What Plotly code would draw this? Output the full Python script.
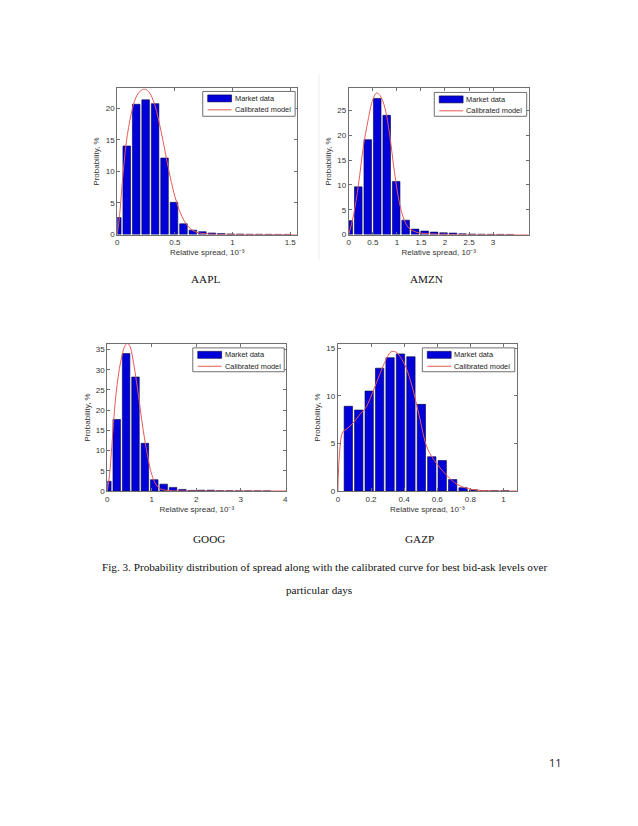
import plotly.graph_objects as go

W, H = 638, 826

# ---------------- data ----------------
# AAPL
aapl_bar_x = [0.0, 0.082, 0.164, 0.246, 0.328, 0.41, 0.492, 0.574, 0.656, 0.738, 0.82, 0.902, 0.984, 1.066, 1.148, 1.23, 1.312, 1.394, 1.476]
aapl_bar_y = [2.7, 14.0, 20.6, 21.3, 20.7, 12.1, 5.1, 1.7, 0.7, 0.45, 0.25, 0.15, 0.1, 0.08, 0.05, 0.05, 0.04, 0.03, 0.03]
aapl_fit_x = [0.0, 0.02, 0.04, 0.06, 0.08, 0.12, 0.16, 0.2, 0.24, 0.28, 0.32, 0.36, 0.4, 0.44, 0.48, 0.52, 0.56, 0.6, 0.65, 0.7, 0.8, 1.0, 1.56]
aapl_fit_y = [0.0, 3.0, 7.5, 11.5, 14.8, 19.0, 21.6, 22.7, 23.0, 22.4, 20.8, 18.0, 14.5, 10.8, 7.4, 4.8, 2.9, 1.6, 0.7, 0.3, 0.08, 0.02, 0.0]

# AMZN
amzn_bar_x = [0.0, 0.197, 0.394, 0.591, 0.788, 0.985, 1.182, 1.379, 1.576, 1.773, 1.97, 2.167, 2.364, 2.561, 2.758, 2.955, 3.152, 3.349]
amzn_bar_y = [2.8, 9.6, 19.1, 27.4, 24.0, 10.7, 2.9, 1.1, 0.7, 0.5, 0.35, 0.3, 0.15, 0.1, 0.07, 0.05, 0.04, 0.03]
amzn_fit_x = [0.0, 0.1, 0.2, 0.3, 0.4, 0.5, 0.58, 0.65, 0.75, 0.85, 0.95, 1.05, 1.15, 1.25, 1.4, 1.6, 2.0, 3.74]
amzn_fit_y = [0.0, 4.0, 10.0, 17.5, 23.0, 27.2, 28.5, 28.0, 25.5, 20.0, 12.5, 6.5, 3.0, 1.3, 0.5, 0.2, 0.05, 0.0]

# GOOG
goog_bar_x = [0.0, 0.211, 0.422, 0.633, 0.844, 1.055, 1.266, 1.477, 1.688, 1.899, 2.11, 2.321, 2.532, 2.743, 2.954, 3.165, 3.376, 3.587]
goog_bar_y = [2.4, 17.7, 34.0, 28.2, 11.8, 2.8, 1.7, 0.9, 0.4, 0.15, 0.2, 0.2, 0.05, 0.04, 0.03, 0.03, 0.02, 0.02]
goog_fit_x = [0.0, 0.05, 0.1, 0.15, 0.2, 0.3, 0.4, 0.45, 0.5, 0.6, 0.7, 0.8, 0.9, 1.0, 1.1, 1.2, 1.4, 2.0, 4.02]
goog_fit_y = [0.0, 4.0, 11.0, 18.5, 24.5, 32.0, 36.0, 36.5, 36.0, 31.0, 23.5, 15.5, 9.0, 4.0, 1.5, 0.5, 0.1, 0.0, 0.0]

# GAZP
gazp_bar_x = [0.063, 0.126, 0.189, 0.252, 0.315, 0.378, 0.441, 0.504, 0.567, 0.63, 0.693, 0.756, 0.819, 0.882, 0.945, 1.008]
gazp_bar_y = [8.9, 8.5, 10.5, 12.9, 14.0, 14.4, 14.1, 9.1, 3.6, 3.2, 1.2, 0.35, 0.12, 0.05, 0.03, 0.02]
gazp_fit_x = [0.0, 0.01, 0.03, 0.06, 0.1, 0.13, 0.17, 0.22, 0.28, 0.32, 0.35, 0.4, 0.44, 0.49, 0.54, 0.6, 0.66, 0.72, 0.8, 0.9, 1.08]
gazp_fit_y = [0.0, 4.0, 6.2, 6.6, 7.3, 8.0, 8.8, 10.8, 13.4, 14.6, 14.6, 13.4, 11.5, 8.0, 4.5, 2.8, 1.6, 0.7, 0.2, 0.03, 0.0]

names = ["AAPL", "AMZN", "GOOG", "GAZP"]
series_names = ["Market data", "Calibrated model"]
x_ranges = [[0, 1.56], [0, 3.74], [0, 4.02], [0, 1.08]]
y_ranges = [[0, 23.1], [0, 29.4], [0, 36.4], [0, 15.45]]
x_ticks = [[0, 0.5, 1, 1.5], [0, 0.5, 1, 1.5, 2, 2.5, 3], [0, 1, 2, 3, 4], [0, 0.2, 0.4, 0.6, 0.8, 1]]
x_ticklabels = [["0", "0.5", "1", "1.5"], ["0", "0.5", "1", "1.5", "2", "2.5", "3"],
                ["0", "1", "2", "3", "4"], ["0", "0.2", "0.4", "0.6", "0.8", "1"]]
y_ticks = [[0, 5, 10, 15, 20], [0, 5, 10, 15, 20, 25], [0, 5, 10, 15, 20, 25, 30, 35], [0, 5, 10, 15]]
bin_widths = [0.082, 0.197, 0.211, 0.063]

bars = [(aapl_bar_x, aapl_bar_y), (amzn_bar_x, amzn_bar_y), (goog_bar_x, goog_bar_y), (gazp_bar_x, gazp_bar_y)]
fits = [(aapl_fit_x, aapl_fit_y), (amzn_fit_x, amzn_fit_y), (goog_fit_x, goog_fit_y), (gazp_fit_x, gazp_fit_y)]

# ---------------- layout geometry (pixels) ----------------
boxes = [(116, 297, 89, 236), (349, 530, 89, 236), (106, 286, 346, 494), (338, 518, 346, 494)]
legend_boxes = [(202, 295, 92, 117), (435, 528, 93, 117), (192, 284, 350, 374), (423, 516, 350, 374)]

BAR_COLOR = "#0000d8"
BAR_EDGE = "#00004a"
LINE_COLOR = "#e85a55"
AXIS_COLOR = "#707070"
TXT = "#333333"

fig = go.Figure()
layout = dict(
    width=W, height=H,
    margin=dict(l=0, r=0, t=0, b=0),
    paper_bgcolor="white", plot_bgcolor="white",
    font=dict(family="Liberation Sans, Arial", size=8, color=TXT),
    showlegend=False,
)


def px(x):
    return x / W


def py(y):
    return 1 - y / H


for i in range(4):
    sx = "" if i == 0 else str(i + 1)
    xa, ya = "x" + sx, "y" + sx
    bx, by = bars[i]
    fx, fy = fits[i]
    fig.add_trace(go.Bar(
        x=bx, y=by, xaxis=xa, yaxis=ya, name=series_names[0],
        width=bin_widths[i] * 0.8,
        marker=dict(color=BAR_COLOR, line=dict(color=BAR_EDGE, width=0.6)),
    ))
    fig.add_trace(go.Scatter(
        x=fx, y=fy, xaxis=xa, yaxis=ya, name=series_names[1],
        mode="lines", line=dict(color=LINE_COLOR, width=1, shape="spline"),
    ))
    l, r, t, b = boxes[i]
    axis_common = dict(
        showline=True, linecolor=AXIS_COLOR, linewidth=1, mirror="allticks",
        ticks="inside", ticklen=3, tickcolor=AXIS_COLOR,
        showgrid=False, zeroline=False,
        tickfont=dict(size=8, color=TXT),
    )
    layout["xaxis" + sx] = dict(
        axis_common, domain=[px(l), px(r)], anchor=ya, range=x_ranges[i],
        tickmode="array", tickvals=x_ticks[i], ticktext=x_ticklabels[i],
        title=dict(text="Relative spread, 10⁻³", font=dict(size=8, color=TXT), standoff=3),
    )
    layout["yaxis" + sx] = dict(
        axis_common, domain=[py(b), py(t)], anchor=xa, range=y_ranges[i],
        tickmode="array", tickvals=y_ticks[i],
        title=dict(text="Probability, %", font=dict(size=8, color=TXT), standoff=4),
    )

    # hand-drawn legend box (MATLAB style)
    ll, lr, lt, lb = legend_boxes[i]
    fig.add_shape(type="rect", xref="paper", yref="paper",
                  x0=px(ll), x1=px(lr), y0=py(lb), y1=py(lt),
                  line=dict(color=AXIS_COLOR, width=1), fillcolor="white", layer="above")
    row1 = lt + 7
    row2 = lt + 18.5
    fig.add_shape(type="rect", xref="paper", yref="paper",
                  x0=px(ll + 5), x1=px(ll + 29), y0=py(row1 + 3.5), y1=py(row1 - 3.5),
                  line=dict(color=BAR_EDGE, width=0.6), fillcolor=BAR_COLOR, layer="above")
    fig.add_shape(type="line", xref="paper", yref="paper",
                  x0=px(ll + 5), x1=px(ll + 29), y0=py(row2), y1=py(row2),
                  line=dict(color=LINE_COLOR, width=1), layer="above")
    for k, row in enumerate([row1, row2]):
        fig.add_annotation(text=series_names[k], xref="paper", yref="paper",
                           x=px(ll + 30), y=py(row), xanchor="left", yanchor="middle",
                           showarrow=False, font=dict(size=7.4, color="#222222"))

fig.update_layout(**layout)

# captions
serif = dict(family="Liberation Serif, Times New Roman", size=11.2, color="#111111")
captions = [("AAPL", 205, 281), ("AMZN", 427, 281), ("GOOG", 208, 542), ("GAZP", 420, 542),
            ("Fig. 3. Probability distribution of spread along with the calibrated curve for best bid-ask levels over", 325, 570),
            ("particular days", 319, 594)]
for txt, cx, cy in captions:
    fig.add_annotation(text=txt, x=px(cx), y=py(cy), xref="paper", yref="paper",
                       showarrow=False, xanchor="center", yanchor="middle", font=serif)
fig.add_annotation(text="11", x=px(557), y=py(767), xref="paper", yref="paper",
                   showarrow=False, xanchor="center", yanchor="middle",
                   font=dict(family="Open Sans, Liberation Sans", size=11, color="#222222"))

# faint separator between the top figures
fig.add_shape(type="line", x0=px(319), x1=px(319), y0=py(75), y1=py(262),
              xref="paper", yref="paper", line=dict(color="#eeeeee", width=1))

fig.write_html("out.html", config={"displayModeBar": False},
               post_script="document.body.style.margin='0';document.body.style.overflow='hidden';")
